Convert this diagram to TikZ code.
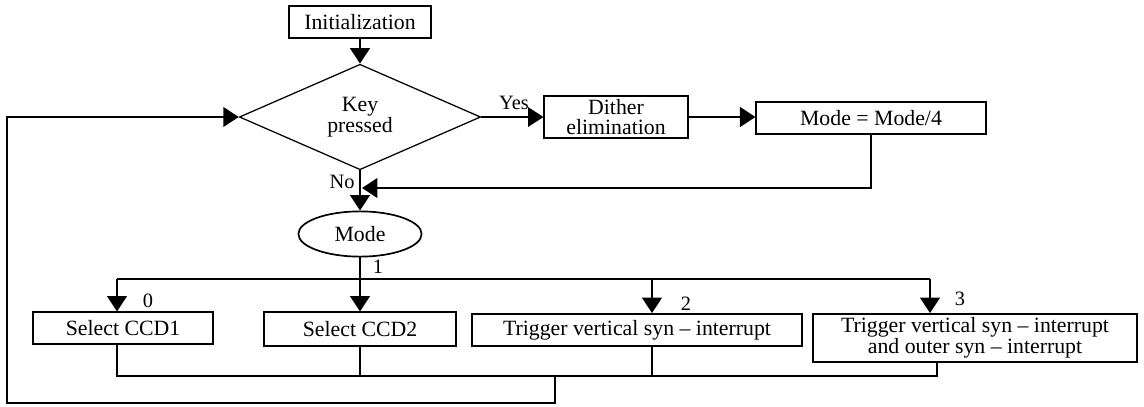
\documentclass[tikz,border=0pt]{standalone}
\usepackage{fontspec}
\setmainfont{Liberation Serif}
\usetikzlibrary{arrows.meta,positioning,calc,shapes.geometric}

\begin{document}
\begin{tikzpicture}[x=0.025cm,y=-0.025cm,
    every node/.style={font=\fontsize{15.5}{14}\selectfont,align=center,inner sep=1pt},
    box/.style={draw,line width=1.3pt},
    tag/.style={font=\fontsize{14.5}{14}\selectfont},
    arr/.style={-{Triangle[width=14pt,length=11pt]}},
    heavy/.style={line width=1.6pt},
    light/.style={line width=0.9pt}]
    \useasboundingbox (0,0) rectangle (1144,407);
    % top row
    \node[box,minimum width=3.53cm,minimum height=0.8cm] (init) at (360,22) {Initialization};
    \node[draw,diamond,line width=0.9pt,inner sep=0pt,minimum width=6.03cm,minimum height=2.28cm] (key) at (360,117) {Key\\pressed};
    \node[box,minimum width=3.58cm,minimum height=1.03cm] (dither) at (616,117) {Dither\\elimination};
    \node[box,minimum width=5.73cm,minimum height=0.78cm] (quot) at (871,118) {Mode = Mode/4};
    \node[draw,ellipse,line width=1.2pt,minimum width=3.08cm,minimum height=1.13cm] (mode) at (360,234) {Mode};
    % bottom row
    \node[box,minimum width=4.5cm,minimum height=0.78cm] (ccd1) at (123,328) {Select CCD1};
    \node[box,minimum width=4.8cm,minimum height=0.83cm] (ccd2) at (360,329) {Select CCD2};
    \node[box,minimum width=8.23cm,minimum height=0.8cm] (trig) at (637,330) {Trigger vertical syn -- interrupt};
    \node[box,minimum width=8.1cm,minimum height=1.2cm] (trigb) at (975,338) {Trigger vertical syn -- interrupt\\and outer syn -- interrupt};
    % labels
    \node[tag] (yes) at (514,103) {Yes};
    \node[tag] (no) at (342,182) {No};
    \node[tag] (one) at (378,267) {1};
    \node[tag] (zero) at (148,301) {0};
    \node[tag] (two) at (686,304) {2};
    \node[tag] (three) at (960,299) {3};
    % connectors
    \coordinate (merge) at (362,188);
    \coordinate (busl) at (117,279);
    \coordinate (busr) at (930,279);
    \coordinate (bus2) at (652,279);
    \coordinate (retl) at (117,376);
    \coordinate (retr) at (937,376);
    \coordinate (drop) at (555,376);
    \coordinate (loop) at (7,403);
    \draw[heavy,arr] (init) -- (key);
    \draw[light,arr] (key) -- (dither);
    \draw[heavy,arr] (dither.east) -- (dither.east -| quot.west);
    \draw[heavy,arr] (quot.south) |- (merge);
    \draw[heavy,arr] (key) -- (mode);
    \draw[heavy] (busl) -- (busr);
    \draw[heavy,arr] (mode) -- (ccd2);
    \draw[heavy,arr] (busl) -- (busl |- ccd1.north);
    \draw[heavy,arr] (bus2) -- (bus2 |- trig.north);
    \draw[heavy,arr] (busr) -- (busr |- trigb.north);
    \draw[light] (retl |- ccd1.south) -- (retl) -- (retr) -- (retr |- trigb.south);
    \draw[light] (ccd2) -- (ccd2 |- retl);
    \draw[light] (bus2 |- trig.south) -- (bus2 |- retl);
    \draw[heavy,arr] (drop) -- (drop |- loop) -- (loop) -- (loop |- key.west) -- (key);
\end{tikzpicture}
\end{document}
